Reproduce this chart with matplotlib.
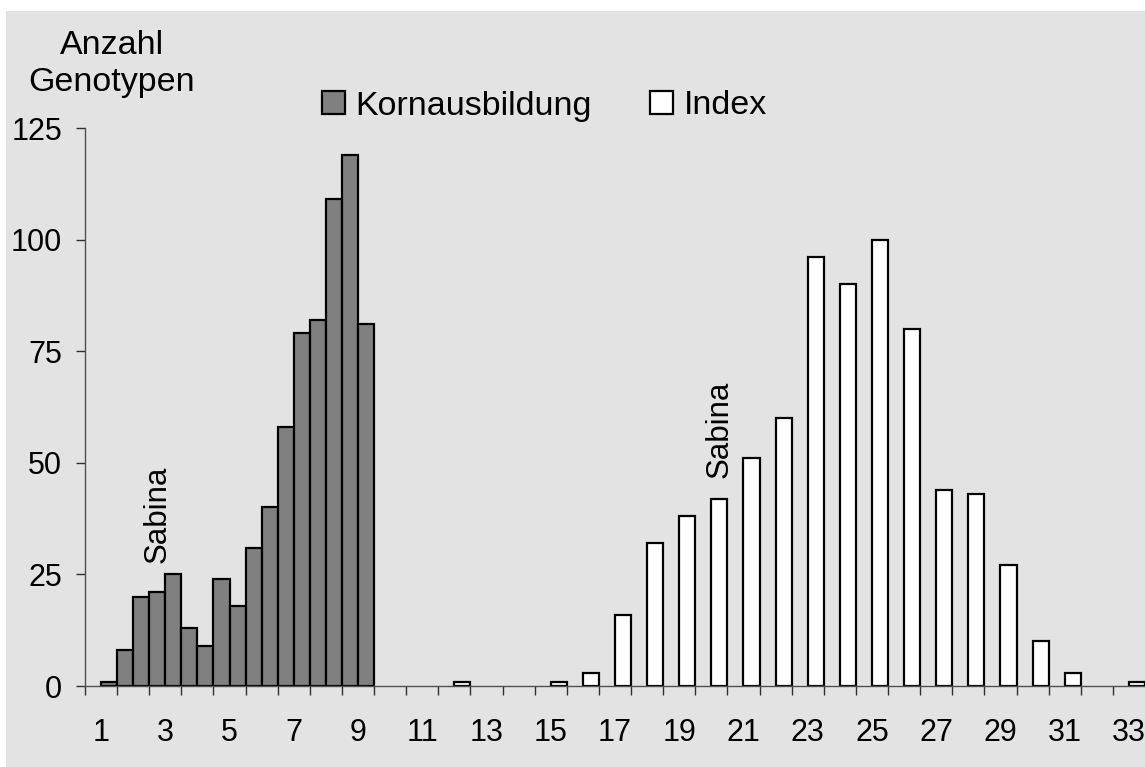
import matplotlib
matplotlib.use("Agg")
import matplotlib.pyplot as plt
from matplotlib.patches import Rectangle

plt.rcParams['font.family'] = ['Liberation Sans', 'DejaVu Sans']

# Kornausbildung: half-step classes 1 .. 9
korn_x = [1, 1.5, 2, 2.5, 3, 3.5, 4, 4.5, 5, 5.5, 6, 6.5, 7, 7.5, 8, 8.5, 9]
korn_n = [1, 8, 20, 21, 25, 13, 9, 24, 18, 31, 40, 58, 79, 82, 109, 119, 81]

# Index: whole-number classes (empty classes left out)
index_x = [12, 15, 16, 17, 18, 19, 20, 21, 22, 23, 24, 25, 26, 27, 28, 29, 30, 31, 33]
index_n = [1, 1, 3, 16, 32, 38, 42, 51, 60, 96, 90, 100, 80, 44, 43, 27, 10, 3, 1]

x_labels = [1, 3, 5, 7, 9, 11, 13, 15, 17, 19, 21, 23, 25, 27, 29, 31, 33]
y_ticks = [0, 25, 50, 75, 100, 125]

# where the "Sabina" marks sit (class, height of text foot)
sabina = [(2.5, 27.5), (20, 46.5)]

W, H = 1145, 767
fig = plt.figure(figsize=(W / 100, H / 100), dpi=100, facecolor='white')

# grey chart area (white strip on top and left)
fig.patches.append(Rectangle((6 / W, 0), 1, 1 - 11 / H, transform=fig.transFigure,
                             facecolor='#e3e3e3', edgecolor='none', zorder=-10))

ax = fig.add_axes([85 / W, 1 - 686 / H, 1 - 85 / W, (686 - 128) / H])
ax.patch.set_visible(False)

b1 = ax.bar(korn_x, korn_n, width=0.5, align='edge', color='#808080',
            edgecolor='black', linewidth=1.6, label='Kornausbildung')
b2 = ax.bar(index_x, index_n, width=0.5, align='edge', color='white',
            edgecolor='black', linewidth=1.6, label='Index')

for xs, ys in sabina:
    ax.text(xs + 0.25, ys, 'Sabina', rotation=90, ha='center', va='bottom', fontsize=22.5)

ax.set_xlim(0.5, 33.5)
ax.set_ylim(0, 125)

for s in ['top', 'right']:
    ax.spines[s].set_visible(False)
for s in ['left', 'bottom']:
    ax.spines[s].set_color('#505050')
    ax.spines[s].set_linewidth(1.0)

# boundaries get tick marks, class centres get the labels
ax.set_xticks([i + 0.5 for i in range(0, 33)])
ax.set_xticklabels([])
ax.set_xticks(x_labels, minor=True)
ax.set_xticklabels([str(v) for v in x_labels], minor=True)
ax.tick_params(axis='x', which='major', direction='out', length=6.5, width=1.0, color='#303030')
ax.tick_params(axis='x', which='minor', length=0, pad=23, labelsize=22)

ax.set_yticks(y_ticks)
ax.set_yticklabels([str(v) for v in y_ticks])
ax.tick_params(axis='y', direction='out', length=6.5, width=1.0, color='#303030',
               pad=10, labelsize=22)

fig.text(112 / W, 1 - 64 / H, 'Anzahl\nGenotypen', ha='center', va='center',
         fontsize=24.5, linespacing=1.25)

fig.legend(handles=[b1, b2], loc='center left', bbox_to_anchor=(322 / W, 1 - 106 / H),
           ncol=2, frameon=False, fontsize=24.5, borderpad=0, handlelength=0.68,
           handleheight=0.68, handletextpad=0.3, columnspacing=1.72, borderaxespad=0)

fig.savefig('out.png', dpi=100, facecolor=fig.get_facecolor())
